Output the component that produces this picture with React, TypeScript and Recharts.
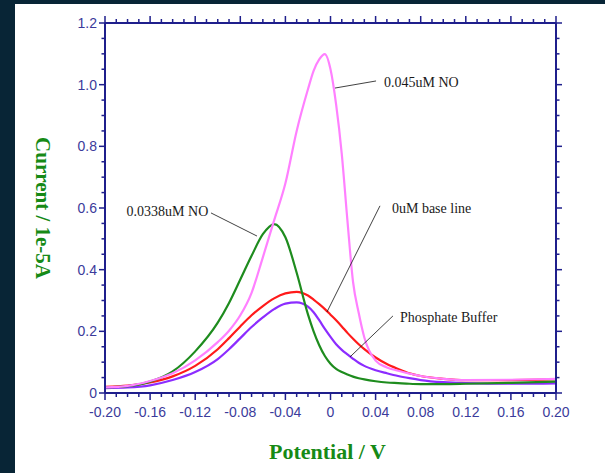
import React from "react";
import {
  LineChart,
  Line,
  XAxis,
  YAxis,
  ReferenceLine,
  ReferenceDot,
} from "recharts";

// potential (V) sample points shared by all four sweeps
const potentials = [
  -0.2, -0.18, -0.16, -0.14, -0.12, -0.1, -0.09, -0.08, -0.07, -0.06, -0.05,
  -0.04, -0.03, -0.02, -0.015, -0.01, -0.005, 0, 0.005, 0.01, 0.015, 0.02,
  0.025, 0.03, 0.04, 0.05, 0.06, 0.07, 0.08, 0.1, 0.12, 0.16, 0.2,
];

// current, 1e-5 A
const phosphateBuffer = [
  0.016, 0.018, 0.025, 0.042, 0.068, 0.11, 0.142, 0.178, 0.214, 0.245, 0.272,
  0.29, 0.294, 0.28, 0.262, 0.236, 0.208, 0.182, 0.158, 0.14, 0.125, 0.111,
  0.098, 0.088, 0.074, 0.064, 0.055, 0.048, 0.042, 0.035, 0.032, 0.03, 0.031,
];
const baseLine = [
  0.02, 0.024, 0.034, 0.054, 0.088, 0.142, 0.178, 0.216, 0.252, 0.282, 0.307,
  0.323, 0.328, 0.316, 0.303, 0.288, 0.272, 0.254, 0.236, 0.216, 0.195, 0.176,
  0.158, 0.142, 0.115, 0.094, 0.078, 0.064, 0.055, 0.046, 0.042, 0.042, 0.045,
];
const no0338 = [
  0.018, 0.022, 0.037, 0.07, 0.135, 0.228, 0.292, 0.368, 0.445, 0.515, 0.548,
  0.505, 0.39, 0.255, 0.2, 0.155, 0.12, 0.095, 0.078, 0.068, 0.06, 0.053,
  0.048, 0.044, 0.038, 0.034, 0.032, 0.03, 0.029, 0.029, 0.03, 0.033, 0.037,
];
const no045 = [
  0.018, 0.023, 0.039, 0.064, 0.106, 0.165, 0.202, 0.252, 0.325, 0.44, 0.56,
  0.68, 0.85, 0.985, 1.045, 1.082, 1.099, 1.05, 0.935, 0.775, 0.56, 0.36,
  0.26, 0.18, 0.105, 0.083, 0.072, 0.063, 0.055, 0.046, 0.042, 0.043, 0.046,
];

const xTicks = Array.from({ length: 41 }, (_, i) => Math.round((-0.2 + i * 0.01) * 100) / 100);
const yTicks = Array.from({ length: 25 }, (_, i) => Math.round(i * 0.05 * 100) / 100);

const data = potentials.map((p, i) => ({
  p,
  buffer: phosphateBuffer[i],
  base: baseLine[i],
  low: no0338[i],
  high: no045[i],
}));

// callouts: text anchor point + leader line, in data units
const callouts = [
  { text: "0.045uM NO", tx: 0.0475, ty: 1.009, anchor: "start", x1: 0.004, y1: 0.989, x2: 0.0404, y2: 1.012 },
  { text: "0.0338uM NO", tx: -0.1084, ty: 0.589, anchor: "end", x1: -0.106, y1: 0.584, x2: -0.0652, y2: 0.509 },
  { text: "0uM base line", tx: 0.0545, ty: 0.6, anchor: "start", x1: -0.0031, y1: 0.263, x2: 0.0439, y2: 0.607 },
  { text: "Phosphate Buffer", tx: 0.0616, ty: 0.2465, anchor: "start", x1: 0.0173, y1: 0.117, x2: 0.0554, y2: 0.25 },
];

const AXIS = "#1f1f8c";
const TICK_TEXT = "#3b3b9b";
const GREEN = "#168a16";
const tickFont = { fontFamily: "'Liberation Sans', Arial, sans-serif", fontSize: 14 };

const isMajorX = (v: number) => Math.round(v * 100) % 4 === 0;
const isMajorY = (v: number) => Math.round(v * 100) % 20 === 0;
const fmtX = (v: number) => (Math.abs(v) < 1e-9 ? "0" : v.toFixed(2));
const fmtY = (v: number) => (Math.abs(v) < 1e-9 ? "0" : v.toFixed(1));

const makeTick = (side: "bottom" | "top" | "left" | "right") => (props: any) => {
  const { x, y, payload } = props;
  const v = Number(payload.value);
  if (side === "bottom" || side === "top") {
    const major = isMajorX(v);
    const len = major ? 7 : 4;
    const dir = side === "bottom" ? 1 : -1;
    return (
      <g>
        <line x1={x} x2={x} y1={y} y2={y + dir * len} stroke={AXIS} strokeWidth={1.5} />
        {side === "bottom" && major && (
          <text x={x} y={y + 24} textAnchor="middle" fill={TICK_TEXT} style={tickFont}>
            {fmtX(v)}
          </text>
        )}
      </g>
    );
  }
  const major = isMajorY(v);
  const len = major ? 6 : 3.5;
  const dir = side === "left" ? -1 : 1;
  return (
    <g>
      <line x1={x} x2={x + dir * len} y1={y} y2={y} stroke={AXIS} strokeWidth={1.5} />
      {side === "left" && major && (
        <text x={x - 8} y={y} dy="0.35em" textAnchor="end" fill={TICK_TEXT} style={tickFont}>
          {fmtY(v)}
        </text>
      )}
    </g>
  );
};

const titleStyle = {
  fontFamily: "'Liberation Serif', 'Times New Roman', serif",
  fontWeight: 700,
  fontSize: 21,
  fill: GREEN,
};

export default function App() {
  return (
    <div style={{ position: "absolute", left: 0, top: 0, width: 605, height: 473, background: "#082536" }}>
      <div style={{ position: "absolute", left: 15, top: 4, width: 590, height: 469, background: "#ffffff" }} />
      <div style={{ position: "absolute", left: 0, top: 0 }}>
        <LineChart width={605} height={473} data={data} margin={{ top: 13, right: 39, bottom: 50, left: 60 }}>
          <XAxis
            xAxisId="b"
            dataKey="p"
            type="number"
            domain={[-0.2, 0.2]}
            ticks={xTicks}
            interval={0}
            tickSize={0}
            tickMargin={0}
            tickLine={false}
            axisLine={{ stroke: AXIS, strokeWidth: 2 }}
            tick={makeTick("bottom")}
            height={30}
            allowDataOverflow
            label={{
              content: (p: any) => {
                const vb = p.viewBox;
                return (
                  <text x={vb.x + vb.width / 2 - 3} y={vb.y + 66} textAnchor="middle" style={{ ...titleStyle, fontSize: 22 }}>
                    Potential / V
                  </text>
                );
              },
            }}
          />
          <XAxis
            xAxisId="t"
            orientation="top"
            dataKey="p"
            type="number"
            domain={[-0.2, 0.2]}
            ticks={xTicks}
            interval={0}
            tickSize={0}
            tickMargin={0}
            tickLine={false}
            axisLine={{ stroke: AXIS, strokeWidth: 2 }}
            tick={makeTick("top")}
            height={10}
            allowDataOverflow
          />
          <YAxis
            yAxisId="l"
            type="number"
            domain={[0, 1.2]}
            ticks={yTicks}
            interval={0}
            tickSize={0}
            tickMargin={0}
            tickLine={false}
            axisLine={{ stroke: AXIS, strokeWidth: 2 }}
            tick={makeTick("left")}
            width={45}
            allowDataOverflow
            label={{
              content: (p: any) => {
                const vb = p.viewBox;
                const cx = vb.x - 17;
                const cy = vb.y + vb.height / 2;
                return (
                  <text
                    x={cx}
                    y={cy}
                    transform={`rotate(90 ${cx} ${cy})`}
                    textAnchor="middle"
                    dominantBaseline="central"
                    style={titleStyle}
                  >
                    Current / 1e-5A
                  </text>
                );
              },
            }}
          />
          <YAxis
            yAxisId="r"
            orientation="right"
            type="number"
            domain={[0, 1.2]}
            ticks={yTicks}
            interval={0}
            tickSize={0}
            tickMargin={0}
            tickLine={false}
            axisLine={{ stroke: AXIS, strokeWidth: 2 }}
            tick={makeTick("right")}
            width={10}
            allowDataOverflow
          />

          <Line xAxisId="b" yAxisId="l" type="monotone" dataKey="buffer" stroke="#8c2cff" strokeWidth={2.2} dot={false} isAnimationActive={false} />
          <Line xAxisId="b" yAxisId="l" type="monotone" dataKey="base" stroke="#ff1a1a" strokeWidth={2.2} dot={false} isAnimationActive={false} />
          <Line xAxisId="b" yAxisId="l" type="monotone" dataKey="low" stroke="#1e8c1e" strokeWidth={2.2} dot={false} isAnimationActive={false} />
          <Line xAxisId="b" yAxisId="l" type="monotone" dataKey="high" stroke="#ff80ff" strokeWidth={2.2} dot={false} isAnimationActive={false} />

          {callouts.map((c) => (
            <ReferenceLine
              key={"l" + c.text}
              xAxisId="b"
              yAxisId="l"
              segment={[
                { x: c.x1, y: c.y1 },
                { x: c.x2, y: c.y2 },
              ]}
              stroke="#111"
              strokeWidth={0.8}
              ifOverflow="visible"
            />
          ))}
          {callouts.map((c) => (
            <ReferenceDot
              key={"t" + c.text}
              xAxisId="b"
              yAxisId="l"
              x={c.tx}
              y={c.ty}
              r={1}
              ifOverflow="visible"
              shape={(p: any) => (
                <text
                  x={p.cx}
                  y={p.cy}
                  dy="0.35em"
                  textAnchor={c.anchor as any}
                  fill="#1a1a1a"
                  style={{ fontFamily: "'Liberation Serif', 'Times New Roman', serif", fontSize: 14 }}
                >
                  {c.text}
                </text>
              )}
            />
          ))}
        </LineChart>
      </div>
    </div>
  );
}
